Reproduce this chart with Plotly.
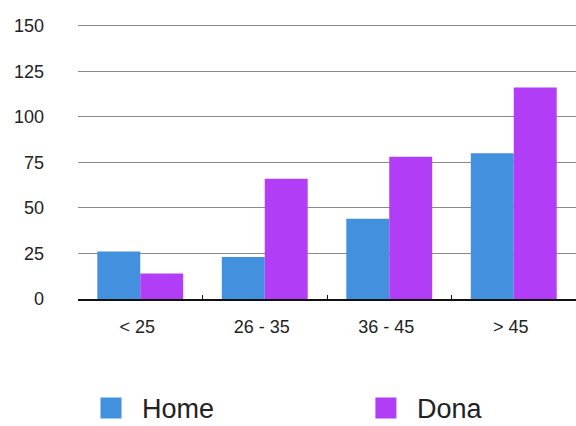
import plotly.graph_objects as go

categories = ["< 25", "26 - 35", "36 - 45", "> 45"]
home = [26, 23, 44, 80]
dona = [14, 66, 78, 116]
y_ticks = [0, 25, 50, 75, 100, 125, 150]
series_names = ["Home", "Dona"]
series_colors = ["#4390df", "#b13ef6"]
legend_ids = ["legend", "legend2"]

fig = go.Figure()
for name, vals, col in zip(series_names, [home, dona], series_colors):
    fig.add_trace(go.Bar(name=name, x=categories, y=vals, showlegend=False,
                         marker=dict(color=col, line=dict(width=0))))
# legend entries (larger square swatches like the reference)
for name, col, lg in zip(series_names, series_colors, legend_ids):
    fig.add_trace(go.Scatter(name=name, x=[None], y=[None], mode="markers", showlegend=True,
                             legend=lg,
                             marker=dict(symbol="square", size=16, color=col,
                                         line=dict(width=5, color=col))))

legend_style = dict(orientation="h", xanchor="left", yanchor="middle", y=-0.395, itemwidth=52,
                    font=dict(size=27, color="#222222"), bgcolor="rgba(0,0,0,0)")

fig.update_layout(
    width=576, height=426,
    margin=dict(l=78, r=0, t=22, b=127, autoexpand=False),
    paper_bgcolor="white", plot_bgcolor="white",
    barmode="group", bargap=0.31, bargroupgap=0,
    font=dict(family="Liberation Sans, Arial, sans-serif", color="#222222"),
    showlegend=True,
    legend=dict(x=0.004, **legend_style),
    legend2=dict(x=0.556, **legend_style),
)
fig.update_yaxes(range=[0, 152], tickvals=y_ticks, showgrid=True, gridcolor="#8a8a8a", gridwidth=1,
                 zeroline=False, showline=False, ticks="", ticklabelstandoff=33, automargin=False,
                 tickfont=dict(size=18, color="#222222"), fixedrange=True)
fig.update_xaxes(showline=True, linecolor="#111111", linewidth=2, ticks="inside", tickson="boundaries",
                 ticklen=4, tickcolor="#111111", tickwidth=1, ticklabelstandoff=10, ticklabelshift=-3,
                 automargin=False, tickfont=dict(size=18, color="#222222"), showgrid=False)

fig.write_html("out.html", config={"displayModeBar": False},
               post_script="document.body.style.margin='0';document.body.style.padding='0';")
